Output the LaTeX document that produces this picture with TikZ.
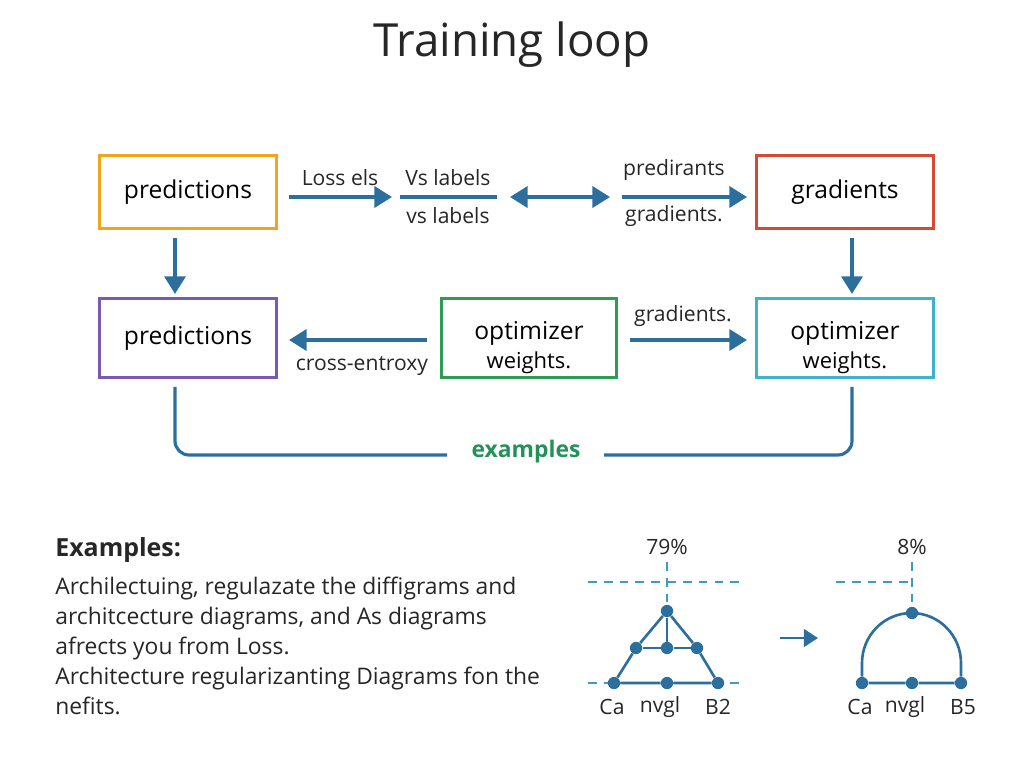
\documentclass[tikz,border=0pt]{standalone}
\usepackage{fontspec}
\setmainfont{Open Sans}
\usetikzlibrary{arrows.meta}

\definecolor{flowblue}{HTML}{2C6E9C}
\definecolor{dashblue}{HTML}{3E9CC0}
\definecolor{boxorange}{HTML}{F0A51C}
\definecolor{boxred}{HTML}{D64A34}
\definecolor{boxpurple}{HTML}{7D58B3}
\definecolor{boxgreen}{HTML}{2E9C52}
\definecolor{boxcyan}{HTML}{3DB4CB}
\definecolor{txtgreen}{HTML}{23925A}

\tikzset{
  box/.style={draw, line width=1.6pt, minimum width=177*0.02cm, minimum height=73*0.02cm, inner sep=0pt, align=center},
  flow/.style={draw=flowblue, line width=1.8pt, -{Triangle[length=10pt,width=12pt]}},
  plainflow/.style={draw=flowblue, line width=1.8pt},
  lbl/.style={font=\fontsize{12}{14}\selectfont, text=black!85, inner sep=0pt},
  guide/.style={draw=dashblue, line width=0.9pt, dash pattern=on 5pt off 4pt},
  dot/.style={circle, fill=flowblue, inner sep=0pt, minimum size=7pt},
}

\begin{document}
\begin{tikzpicture}[x=0.02cm, y=-0.02cm]
        \useasboundingbox (0,0) rectangle (1024,768);
        % Title
        \node[font=\fontsize{26}{30}\selectfont, text=black!85] (title) at (512,45) {Training loop};

        % Draw boxes
        \node[box, draw=boxorange] (pred) at (188,192) {\fontsize{14}{16}\selectfont predictions};
        \node[box, draw=boxred] (grad) at (845,192) {\fontsize{14}{16}\selectfont gradients};
        \node[box, draw=boxpurple, minimum height=79*0.02cm] (predb) at (188,338) {\fontsize{14}{16}\selectfont predictions};
        \node[box, draw=boxgreen, minimum height=79*0.02cm, minimum width=175*0.02cm] (optm) at (529,338)
          {\fontsize{14}{16}\selectfont\rule{0pt}{21pt}optimizer\\[3pt]\fontsize{12.5}{14}\selectfont weights.};
        \node[box, draw=boxcyan, minimum height=79*0.02cm] (optr) at (845,338)
          {\fontsize{14}{16}\selectfont\rule{0pt}{21pt}optimizer\\[3pt]\fontsize{12.5}{14}\selectfont weights.};

        % Draw top row arrows
        \coordinate (a1) at (289,197);
        \coordinate (a2) at (392,197);
        \coordinate (b1) at (400,197);
        \coordinate (b2) at (497,197);
        \coordinate (c1) at (510,197);
        \coordinate (c2) at (610,197);
        \coordinate (d1) at (622,197);
        \coordinate (d2) at (747,197);
        \draw[flow] (a1) -- (a2);
        \draw[plainflow] (b1) -- (b2);
        \draw[flow, {Triangle[length=10pt,width=12pt]}-{Triangle[length=10pt,width=12pt]}] (c1) -- (c2);
        \draw[flow] (d1) -- (d2);
        \node[lbl] (loss) at (340,178) {Loss els};
        \node[lbl] (vsup) at (448,178) {Vs labels};
        \node[lbl] (vsdn) at (448,216) {vs labels};
        \node[lbl] (predir) at (674,170) {predirants};
        \node[lbl] (gradt) at (674,216) {gradients.};

        % Draw down arrows
        \draw[flow] (pred.south) ++(-13,8) -- ++(0,56);
        \draw[flow] (grad.south) ++(7,8) -- ++(0,56);

        % Draw middle row arrows
        \coordinate (e1) at (427,340);
        \coordinate (e2) at (289,340);
        \coordinate (f1) at (630,340);
        \coordinate (f2) at (747,340);
        \draw[flow] (e1) -- (e2);
        \draw[flow] (f1) -- (f2);
        \node[lbl] (xent) at (362,366) {cross-entroxy};
        \node[lbl] (gradm) at (683,316) {gradients.};

        % Draw bottom bracket
        \node[font=\fontsize{13}{15}\selectfont\bfseries, text=txtgreen] (ex) at (526,452) {examples};
        \coordinate (brl) at (447,455);
        \coordinate (brr) at (604,455);
        \draw[plainflow, rounded corners=8pt] (predb.south) ++(-13,8) |- (brl);
        \draw[plainflow, rounded corners=8pt] (optr.south) ++(7,8) |- (brr);

        % Examples text
        \node[anchor=west, font=\fontsize{14.2}{16}\selectfont\bfseries, text=black!85, inner sep=0pt] (exhead) at (55,550) {Examples:};
        \node[anchor=north west, align=left, font=\fontsize{13}{17}\selectfont, text=black!85, inner sep=0pt] (exbody) at (55,577)
          {Archilectuing, regulazate the diffigrams and\\
           architcecture diagrams, and As diagrams\\
           afrects you from Loss.\\
           Architecture regularizanting Diagrams fon the\\
           nefits.};

        % Left diagram
        \draw[guide] (588,582) -- (745,582);
        \draw[guide] (588,683) -- (745,683);
        \node[lbl] (pa) at (667,547) {79\%};
        \node[dot] (t0) at (667,611) {};
        \node[dot] (m1) at (636,648) {};
        \node[dot] (m2) at (667,648) {};
        \node[dot] (m3) at (697,648) {};
        \node[dot] (b1n) at (614,683) {};
        \node[dot] (b2n) at (667,683) {};
        \node[dot] (b3n) at (718,683) {};
        \draw[guide] (667,562) -- (t0);
        \draw[plainflow, line width=1.5pt] (b1n) -- (m1) -- (t0) -- (m3) -- (b3n) -- (b2n) -- (b1n);
        \draw[plainflow, line width=1.5pt] (m1) -- (m2) -- (m3) (t0) -- (m2);
        \node[lbl] at (612,707) {Ca};
        \node[lbl] at (660,707) {nvgl};
        \node[lbl] at (718,707) {B2};

        % Middle arrow
        \coordinate (g1) at (780,638);
        \coordinate (g2) at (818,638);
        \draw[flow, line width=1.5pt, -{Triangle[length=8pt,width=10pt]}] (g1) -- (g2);

        % Right diagram
        \draw[guide] (836,582) -- (912,582);
        \node[lbl] (pb) at (912,547) {8\%};
        \node[dot] (r0) at (912,613) {};
        \node[dot] (r1) at (862,683) {};
        \node[dot] (r2) at (912,683) {};
        \node[dot] (r3) at (961,683) {};
        \draw[guide] (912,562) -- (r0);
        \draw[plainflow, line width=1.5pt] (r1) -- (862,663) arc (180:360:49.5 and 50) -- (r3) -- (r2) -- (r1);
        \node[lbl] at (860,707) {Ca};
        \node[lbl] at (905,707) {nvgl};
        \node[lbl] at (963,707) {B5};
    \end{tikzpicture}
\end{document}
